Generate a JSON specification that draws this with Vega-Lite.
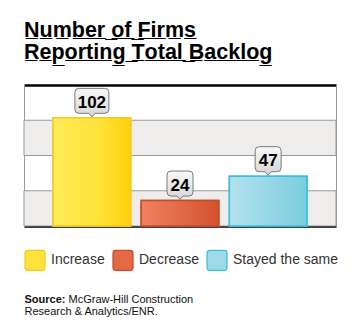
{
  "$schema": "https://vega.github.io/schema/vega-lite/v6.json",
  "width": 312,
  "height": 141,
  "autosize": {"type": "none"},
  "padding": {"left": 24, "top": 85, "right": 26, "bottom": 109},
  "background": "white",
  "config": {"view": {"stroke": null}, "font": "Liberation Sans"},
  "title": {
    "text": ["N\u0332u\u0332m\u0332b\u0332e\u0332r\u0332\u00a0\u0332o\u0332f\u0332\u00a0\u0332F\u0332i\u0332r\u0332m\u0332s\u0332", "R\u0332e\u0332p\u0332o\u0332r\u0332t\u0332i\u0332n\u0332g\u0332\u00a0\u0332T\u0332o\u0332t\u0332a\u0332l\u0332\u00a0\u0332B\u0332a\u0332c\u0332k\u0332l\u0332o\u0332g\u0332"],
    "anchor": "start",
    "frame": "group",
    "font": "Liberation Sans",
    "fontSize": 21.5,
    "fontWeight": "bold",
    "color": "#000000",
    "lineHeight": 22,
    "offset": 22
  },
  "datasets": {
    "firms": [
      {"category": "Increase", "value": 102},
      {"category": "Decrease", "value": 24},
      {"category": "Stayed the same", "value": 47}
    ],
    "bands": [
      {"lo": 0, "hi": 33.25},
      {"lo": 66.5, "hi": 99.75}
    ]
  },
  "resolve": {"axis": {"y": "independent"}},
  "layer": [
    {
      "data": {"name": "bands"},
      "mark": {"type": "rect", "fill": "#EFEDEB", "stroke": "#9A9A9A", "strokeWidth": 1},
      "encoding": {
        "y": {
          "field": "lo", "type": "quantitative",
          "scale": {"domain": [0, 133], "nice": false, "zero": true},
          "axis": {
            "orient": "left",
            "values": [133],
            "labels": false, "ticks": false,
            "domain": true, "domainColor": "#9A9A9A", "domainWidth": 1,
            "grid": true, "gridColor": "#000000", "gridWidth": 2.5,
            "title": "Source:",
            "titleAngle": 0, "titleX": 0, "titleY": 217,
            "titleAlign": "left", "titleBaseline": "alphabetic",
            "titleFont": "Liberation Sans", "titleFontSize": 11, "titleFontWeight": "bold",
            "titleColor": "#111111"
          }
        },
        "y2": {"field": "hi"}
      }
    },
    {
      "data": {"name": "firms"},
      "mark": {"type": "bar", "strokeWidth": 1.5},
      "encoding": {
        "x": {
          "field": "category", "type": "nominal", "sort": null,
          "scale": {"paddingInner": 0.12, "paddingOuter": 0.33},
          "axis": {
            "labels": false, "ticks": false,
            "domain": true, "domainColor": "#000000", "domainWidth": 2.5,
            "title": "Research & Analytics/ENR.",
            "titleX": 0, "titleY": 88,
            "titleAlign": "left", "titleAnchor": "start", "titleBaseline": "alphabetic",
            "titleFont": "Liberation Sans", "titleFontSize": 11, "titleFontWeight": "normal",
            "titleColor": "#111111"
          }
        },
        "y": {
          "field": "value", "type": "quantitative",
          "scale": {"domain": [0, 133], "nice": false},
          "axis": {
            "orient": "right",
            "values": [],
            "labels": false, "ticks": false, "grid": false,
            "domain": true, "domainColor": "#9A9A9A", "domainWidth": 1,
            "title": "McGraw-Hill Construction",
            "titleAngle": 0, "titleX": -268, "titleY": 217,
            "titleAlign": "left", "titleBaseline": "alphabetic",
            "titleFont": "Liberation Sans", "titleFontSize": 11, "titleFontWeight": "normal",
            "titleColor": "#111111"
          }
        },
        "fill": {
          "field": "category", "type": "nominal", "sort": null,
          "scale": {
            "domain": ["Increase", "Decrease", "Stayed the same"],
            "range": ["#FFE23E", "#E46A45", "#9DD9E8"]
          },
          "legend": {
            "orient": "none", "legendX": 0, "legendY": 164,
            "direction": "horizontal", "title": null, "padding": 0,
            "symbolType": "M -0.72,-1 L 0.72,-1 Q 1,-1 1,-0.72 L 1,0.72 Q 1,1 0.72,1 L -0.72,1 Q -1,1 -1,0.72 L -1,-0.72 Q -1,-1 -0.72,-1 Z",
            "symbolSize": 400, "symbolStrokeWidth": 1.2, "symbolOpacity": 1,
            "labelFont": "Liberation Sans", "labelFontSize": 14, "labelColor": "#333333",
            "labelOffset": 5, "columnPadding": 5
          }
        },
        "stroke": {
          "field": "category", "type": "nominal", "sort": null,
          "scale": {
            "domain": ["Increase", "Decrease", "Stayed the same"],
            "range": ["#F5C81E", "#C94A28", "#38BFDC"]
          },
          "legend": {
            "orient": "none", "legendX": 0, "legendY": 164,
            "direction": "horizontal", "title": null, "padding": 0,
            "symbolType": "M -0.72,-1 L 0.72,-1 Q 1,-1 1,-0.72 L 1,0.72 Q 1,1 0.72,1 L -0.72,1 Q -1,1 -1,0.72 L -1,-0.72 Q -1,-1 -0.72,-1 Z",
            "symbolSize": 400, "symbolStrokeWidth": 1.2, "symbolOpacity": 1,
            "labelFont": "Liberation Sans", "labelFontSize": 14, "labelColor": "#333333",
            "labelOffset": 5, "columnPadding": 5
          }
        }
      }
    },
    {
      "data": {"name": "firms"},
      "mark": {"type": "bar", "strokeWidth": 1.5},
      "encoding": {
        "x": {"field": "category", "type": "nominal", "sort": null},
        "y": {"field": "value", "type": "quantitative", "scale": {"domain": [0, 133], "nice": false}, "axis": null},
        "fill": {
          "condition": [
            {"test": "datum.category === 'Increase'", "value": {"gradient": "linear", "x1": 0, "y1": 0, "x2": 1, "y2": 0, "stops": [{"offset": 0, "color": "#FFEC58"}, {"offset": 0.6, "color": "#FFE238"}, {"offset": 1, "color": "#FFD00C"}]}},
            {"test": "datum.category === 'Decrease'", "value": {"gradient": "linear", "x1": 0, "y1": 0, "x2": 1, "y2": 0, "stops": [{"offset": 0, "color": "#F08262"}, {"offset": 1, "color": "#D4512E"}]}}
          ],
          "value": {"gradient": "linear", "x1": 0, "y1": 0, "x2": 1, "y2": 0, "stops": [{"offset": 0, "color": "#B4E2ED"}, {"offset": 1, "color": "#7BCDE0"}]}
        },
        "stroke": {
          "condition": [
            {"test": "datum.category === 'Increase'", "value": "#F5C81E"},
            {"test": "datum.category === 'Decrease'", "value": "#C94A28"}
          ],
          "value": "#38BFDC"
        }
      }
    },
    {
      "data": {"name": "firms"},
      "mark": {
        "type": "point", "filled": true, "size": 400, "opacity": 1,
        "fill": {"gradient": "linear", "x1": 0, "y1": 0, "x2": 0, "y2": 1, "stops": [{"offset": 0, "color": "#F8F8F8"}, {"offset": 1, "color": "#D6D6D6"}]},
        "stroke": "#7A7A7A", "strokeWidth": 1
      },
      "encoding": {
        "x": {"field": "category", "type": "nominal", "sort": null},
        "y": {"field": "value", "type": "quantitative", "scale": {"domain": [0, 133], "nice": false}, "axis": null},
        "shape": {
          "condition": {"test": "datum.value >= 100", "value": "M -1.3,-2.95 L 1.3,-2.95 Q 1.7,-2.95 1.7,-2.55 L 1.7,-0.85 Q 1.7,-0.45 1.3,-0.45 L 0.3,-0.45 L 0,-0.1 L -0.3,-0.45 L -1.3,-0.45 Q -1.7,-0.45 -1.7,-0.85 L -1.7,-2.55 Q -1.7,-2.95 -1.3,-2.95 Z"},
          "value": "M -0.9,-2.95 L 0.9,-2.95 Q 1.3,-2.95 1.3,-2.55 L 1.3,-0.85 Q 1.3,-0.45 0.9,-0.45 L 0.3,-0.45 L 0,-0.1 L -0.3,-0.45 L -0.9,-0.45 Q -1.3,-0.45 -1.3,-0.85 L -1.3,-2.55 Q -1.3,-2.95 -0.9,-2.95 Z"
        }
      }
    },
    {
      "data": {"name": "firms"},
      "mark": {"type": "text", "font": "Liberation Sans", "fontSize": 17, "fontWeight": "bold", "color": "#000000", "baseline": "alphabetic", "dy": -10},
      "encoding": {
        "x": {"field": "category", "type": "nominal", "sort": null},
        "y": {"field": "value", "type": "quantitative", "scale": {"domain": [0, 133], "nice": false}, "axis": null},
        "text": {"field": "value", "type": "quantitative"}
      }
    }
  ]
}
